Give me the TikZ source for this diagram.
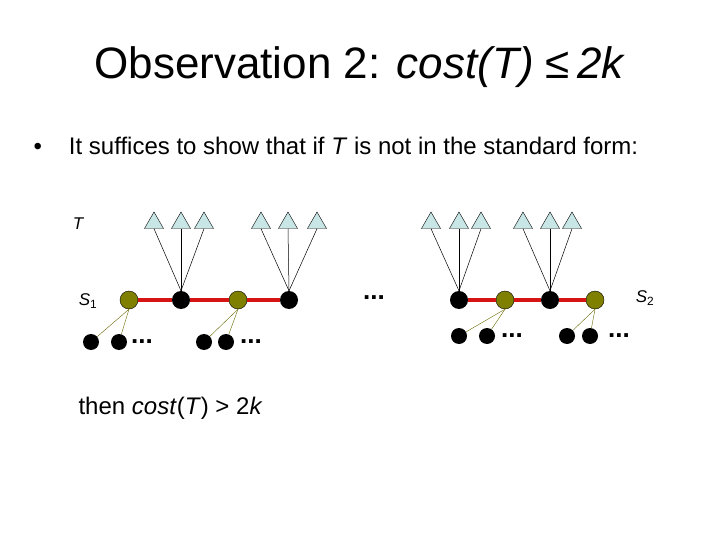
\documentclass[tikz,border=0pt]{standalone}
\usepackage{fontspec}
\setmainfont{Liberation Sans}
\usetikzlibrary{shapes.geometric}
\definecolor{Olive}{RGB}{128,128,0}
\definecolor{Leaf}{RGB}{200,230,230}
\definecolor{Path}{RGB}{215,20,20}

\begin{document}
\begin{tikzpicture}[
  x=1pt, y=-1pt,
  leaf/.style={regular polygon, regular polygon sides=3, draw=black, line width=0.4pt,
    fill=Leaf, minimum size=22pt, inner sep=0pt},
  steiner/.style={circle, fill=black, minimum size=18pt, inner sep=0pt},
  terminal/.style={circle, draw=black, line width=0.4pt, fill=Olive, minimum size=18pt, inner sep=0pt},
  child/.style={circle, fill=black, minimum size=16pt, inner sep=0pt},
  spine/.style={line width=3.5pt, Path},
  twig/.style={line width=0.4pt, Olive!80!black},
  stem/.style={line width=0.5pt, black},
  more/.style={font=\fontsize{26}{30}\selectfont, inner sep=0pt}
]
  \useasboundingbox (0,0) rectangle (720,540);

  % title and text
  \node[font=\fontsize{44}{52}\selectfont] (title) at (360,67)
    {Observation 2: \textit{cost(T)} ≤\,\textit{2k}};
  \node[anchor=west, font=\fontsize{24}{28}\selectfont] (claim) at (30,146)
    {\textbullet\hspace{27pt}It suffices to show that if \textit{T} is not in the standard form:};
  \node[anchor=west, font=\fontsize{24}{28}\selectfont] (concl) at (75,408)
    {then \textit{cost}(\textit{T}) > 2\textit{k}};

  % labels
  \node[font=\fontsize{17}{20}\selectfont\itshape] (lT) at (78,224) {T};
  \node[font=\fontsize{17}{20}\selectfont] (lS1) at (88,301) {\textit{S}\textsubscript{1}};
  \node[font=\fontsize{17}{20}\selectfont] (lS2) at (645,298) {\textit{S}\textsubscript{2}};

  % left part of the path
  \node[terminal] (o1) at (129,300) {};
  \node[steiner]  (b1) at (181,300) {};
  \node[terminal] (o2) at (238,300) {};
  \node[steiner]  (b2) at (289,300) {};
  \node[more] (gap) at (374,298) {\textbf{...}};
  % right part of the path
  \node[steiner]  (b3) at (459,300) {};
  \node[terminal] (o3) at (505,300) {};
  \node[steiner]  (b4) at (550,300) {};
  \node[terminal] (o4) at (595,300) {};

  \draw[spine] (o1) -- (b1);
  \draw[spine] (b1) -- (o2);
  \draw[spine] (o2) -- (b2);
  \draw[spine] (b3) -- (o3);
  \draw[spine] (o3) -- (b4);
  \draw[spine] (b4) -- (o4);

  % leaves above the steiner nodes
  \foreach \s/\xa/\xb/\xc in {b1/154/181/204, b2/261/288/317, b3/431/459/481, b4/523/550/572} {
    \node[leaf] (\s-l1) at (\xa,223) {};
    \node[leaf] (\s-l2) at (\xb,223) {};
    \node[leaf] (\s-l3) at (\xc,223) {};
    \foreach \l in {l1,l2,l3}
      \draw[stem] (\s-\l.south) -- (\s.north);
  }

  % children below the terminals
  \foreach \o/\xa/\xb/\xd/\yy in {o1/91/119/142/342, o2/204/226/251/342, o3/459/487/512/336, o4/567/590/619/336} {
    \node[child] (\o-c1) at (\xa,\yy) {};
    \node[child] (\o-c2) at (\xb,\yy) {};
    \node[more] (\o-dots) at (\xd,\yy) {\textbf{...}};
    \draw[twig] (\o.south) -- (\o-c1);
    \draw[twig] (\o.south) -- (\o-c2);
  }
\end{tikzpicture}
\end{document}
